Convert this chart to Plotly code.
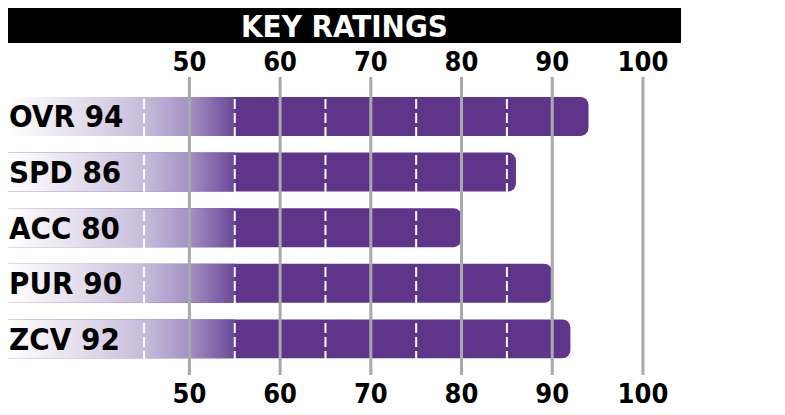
import plotly.graph_objects as go

# ratings data
categories = ["OVR", "SPD", "ACC", "PUR", "ZCV"]
ratings = [94, 86, 80, 90, 92]
grid_ticks = [50, 60, 70, 80, 90, 100]
dash_ticks = [45, 55, 65, 75, 85]
tick_labels = ["50", "60", "70", "80", "90", "100"]

PURPLE = "#5e3589"
AXIS_MIN, FADE_END = 30, 55
half = 0.35
PLOT_H = 298  # plot area height in px

fig = go.Figure()

# solid bars with rounded end
fig.add_trace(go.Bar(
    x=ratings, y=list(range(len(categories))), orientation="h",
    marker=dict(color=PURPLE, line=dict(width=0), cornerradius=8),
    width=0.7, hoverinfo="skip", showlegend=False,
))

# faded left part of each bar (white -> purple gradient)
gx, gy = [], []
for i, _ in enumerate(categories):
    gx += [AXIS_MIN, FADE_END, FADE_END, AXIS_MIN, AXIS_MIN, None]
    gy += [i - half, i - half, i + half, i + half, i - half, None]
fig.add_trace(go.Scatter(
    x=gx, y=gy, mode="none", fill="toself",
    fillgradient=dict(type="horizontal", start=AXIS_MIN, stop=FADE_END,
                      colorscale=[[0, "#ffffff"], [0.36, "#e0d9ea"], [0.6, "#c8bbdb"],
                                  [0.8, "#a391c4"], [1, "#6a4896"]]),
    hoverinfo="skip", showlegend=False,
))

# dummy trace so the bottom axis is drawn
fig.add_trace(go.Scatter(x=[AXIS_MIN], y=[0], xaxis="x2", mode="markers",
                         marker=dict(opacity=0), hoverinfo="skip", showlegend=False))

shapes = []
for v in dash_ticks:
    shapes.append(dict(type="line", xref="x", yref="paper", x0=v, x1=v, y0=0, y1=1,
                       line=dict(color="white", width=2, dash="10px,4px"), layer="above"))
for v in grid_ticks:
    shapes.append(dict(type="line", xref="x", yref="paper", x0=v, x1=v, y0=0, y1=1,
                       line=dict(color="#a9a9ab", width=3), layer="above"))
# title bar
shapes.append(dict(type="rect", xref="paper", yref="paper", x0=0, x1=673 / 771,
                   y0=1 + 34 / PLOT_H, y1=1.25, fillcolor="black", line=dict(width=0),
                   layer="above"))
fig.update_layout(shapes=shapes)

annotations = [dict(text="KEY RATINGS", xref="paper", yref="paper", x=336.5 / 771,
                    y=1 + 51 / PLOT_H, showarrow=False, xanchor="center", yanchor="middle",
                    font=dict(family="DejaVu Sans Condensed", size=31, color="white",
                              weight="bold"))]
for i, (c, r) in enumerate(zip(categories, ratings)):
    annotations.append(dict(text=f"{c} {r}", x=AXIS_MIN, y=i, xref="x", yref="y",
                            xanchor="left", yanchor="middle", xshift=-1, showarrow=False,
                            font=dict(family="DejaVu Sans Condensed", size=31, color="black",
                                      weight="bold")))
fig.update_layout(annotations=annotations)

tick_font = dict(family="DejaVu Sans Condensed", size=27, color="black", weight="bold")
fig.update_layout(
    width=777, height=407,
    margin=dict(l=0, r=6, t=69, b=40),
    plot_bgcolor="white", paper_bgcolor="white",
    bargap=0.3,
    xaxis=dict(range=[AXIS_MIN, 115], side="top", tickvals=grid_ticks, ticktext=tick_labels,
               showgrid=False, zeroline=False, showline=False, ticks="",
               tickfont=tick_font, fixedrange=True),
    xaxis2=dict(range=[AXIS_MIN, 115], overlaying="x", matches="x", side="bottom",
                tickvals=grid_ticks, ticktext=tick_labels, showgrid=False, zeroline=False,
                showline=False, ticks="", tickfont=tick_font, fixedrange=True),
    yaxis=dict(range=[4.65, -0.71], showticklabels=False, showgrid=False, zeroline=False,
               fixedrange=True),
)

fig.write_html("out.html")
